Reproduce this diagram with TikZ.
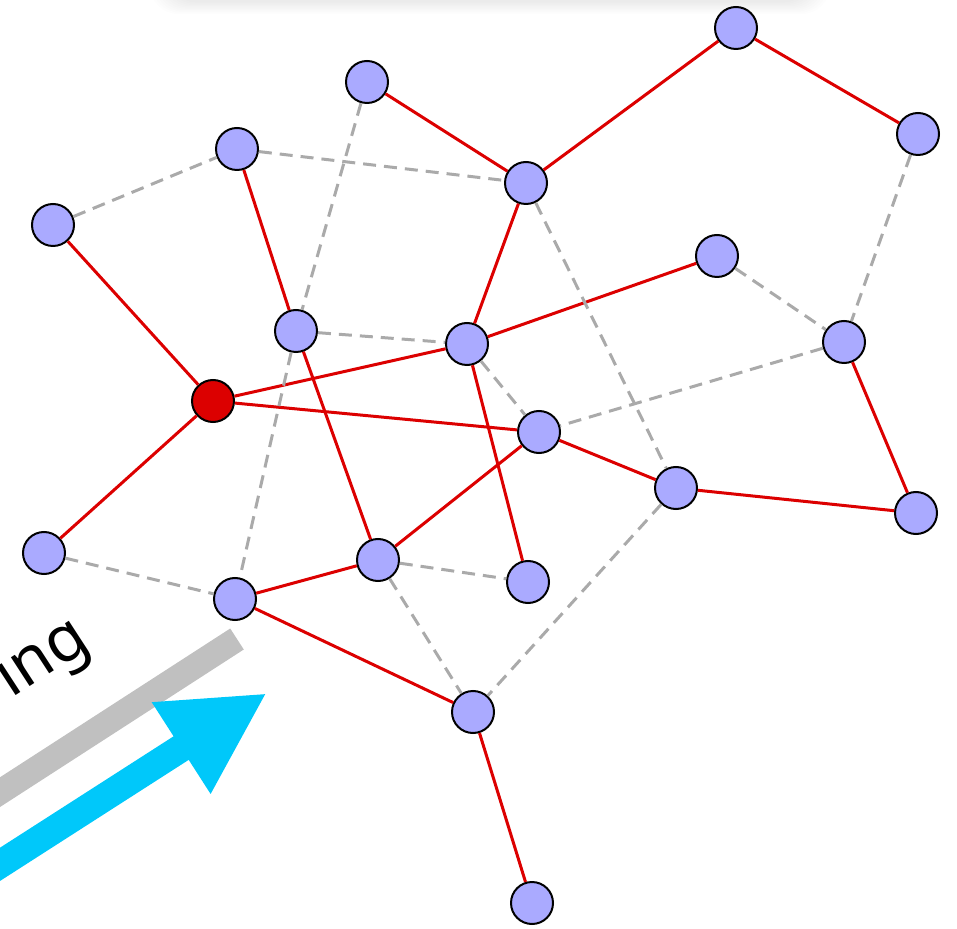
\documentclass[tikz,border=0pt]{standalone}
\usepackage{fontspec}
\newfontfamily\labelfont{Noto Sans}
\usepackage{tikz}
\usetikzlibrary{arrows.meta,positioning}
\definecolor{hostblue}{RGB}{170,170,255}
\definecolor{treered}{RGB}{220,0,0}
\definecolor{linkgray}{RGB}{170,170,170}
\definecolor{bargray}{RGB}{192,192,192}
\definecolor{flowcyan}{RGB}{0,200,250}

\begin{document}
\begin{tikzpicture}[
  x=0.5pt,y=-0.5pt,
  host/.style={circle,draw=black,line width=1pt,fill=hostblue,minimum size=21pt,inner sep=0pt},
  root/.style={host,fill=treered},
  tree/.style={treered,line width=1.5pt},
  link/.style={linkgray,line width=1.5pt,dash pattern=on 6.5pt off 4pt},
  lbl/.style={font=\labelfont\fontsize{32}{34}\selectfont,inner sep=0pt}
]
  \useasboundingbox (0,0) rectangle (957,929);
  \clip (0,0) rectangle (957,929);

  % card shadow along the top
  \foreach \i in {0,...,9}
    \fill[black,opacity=0.009,rounded corners=14pt] (150+2*\i,-40) rectangle (830-2*\i,14-1.3*\i);

  % direction bar and arrow
  \coordinate (bar start) at (-40,818);
  \coordinate (bar end) at (237,639);
  \draw[bargray,line width=12.5pt] (bar start) -- (bar end);
  \coordinate (flow start) at (-40,890);
  \coordinate (flow tip) at (267,693);
  \draw[flowcyan,line width=14pt,-{Triangle[length=51pt,width=50.5pt]}] (flow start) -- (flow tip);
  \node[lbl,rotate=33,anchor=base] (word) at (52,673) {ing};

  % hosts
  \node[host] (a) at (367,82) {};
  \node[host] (b) at (736,28) {};
  \node[host] (c) at (918,134) {};
  \node[host] (d) at (237,149) {};
  \node[host] (e) at (526,183) {};
  \node[host] (f) at (53,225) {};
  \node[host] (g) at (717,256) {};
  \node[host] (h) at (296,331) {};
  \node[host] (i) at (467,344) {};
  \node[host] (j) at (844,342) {};
  \node[root] (src) at (213,401) {};
  \node[host] (k) at (539,432) {};
  \node[host] (l) at (676,488) {};
  \node[host] (m) at (916,513) {};
  \node[host] (n) at (44,553) {};
  \node[host] (o) at (378,560) {};
  \node[host] (p) at (528,582) {};
  \node[host] (q) at (235,599) {};
  \node[host] (s) at (473,712) {};
  \node[host] (t) at (532,903) {};

  % spanning tree
  \draw[tree] (src) -- (f);
  \draw[tree] (src) -- (n);
  \draw[tree] (src) -- (i);
  \draw[tree] (src) -- (k);
  \draw[tree] (i) -- (e);
  \draw[tree] (i) -- (g);
  \draw[tree] (i) -- (p);
  \draw[tree] (e) -- (a);
  \draw[tree] (e) -- (b);
  \draw[tree] (b) -- (c);
  \draw[tree] (d) -- (h);
  \draw[tree] (h) -- (o);
  \draw[tree] (k) -- (o);
  \draw[tree] (k) -- (l);
  \draw[tree] (l) -- (m);
  \draw[tree] (j) -- (m);
  \draw[tree] (o) -- (q);
  \draw[tree] (q) -- (s);
  \draw[tree] (s) -- (t);

  % unused links
  \draw[link] (f) -- (d);
  \draw[link] (d) -- (e);
  \draw[link] (a) -- (h);
  \draw[link] (h) -- (q);
  \draw[link] (h) -- (i);
  \draw[link] (i) -- (k);
  \draw[link] (e) -- (l);
  \draw[link] (g) -- (j);
  \draw[link] (c) -- (j);
  \draw[link] (j) -- (k);
  \draw[link] (n) -- (q);
  \draw[link] (o) -- (p);
  \draw[link] (o) -- (s);
  \draw[link] (l) -- (s);
\end{tikzpicture}
\end{document}
